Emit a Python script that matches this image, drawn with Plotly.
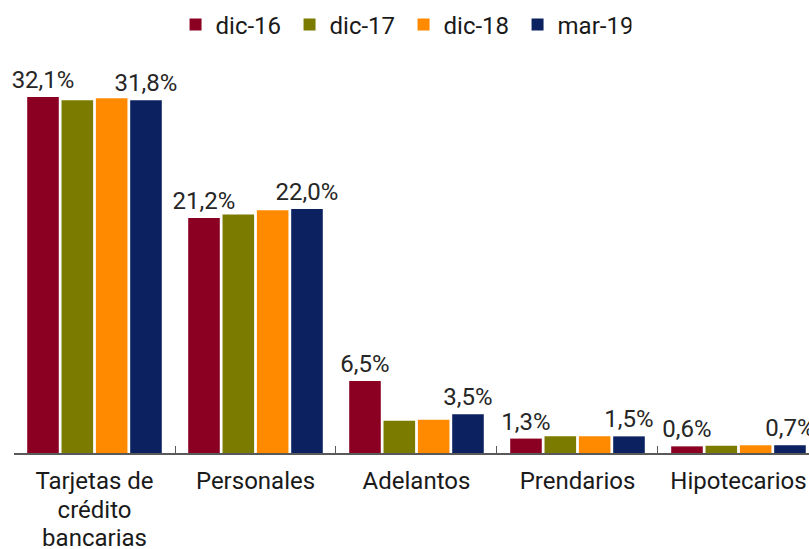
import plotly.graph_objects as go

categories = ["Tarjetas de<br>crédito<br>bancarias", "Personales", "Adelantos", "Prendarios", "Hipotecarios"]
series_names = ["dic-16", "dic-17", "dic-18", "mar-19"]
dic16 = [32.1, 21.2, 6.5, 1.3, 0.6]
dic17 = [31.8, 21.5, 2.9, 1.5, 0.65]
dic18 = [32.0, 21.9, 3.0, 1.5, 0.7]
mar19 = [31.8, 22.0, 3.5, 1.5, 0.7]
colors = ["#8B0022", "#7B7B00", "#FF8A00", "#0B2160"]
labeled = [True, False, False, True]

def fmt(v):
    return f"{v:.1f}".replace(".", ",") + "%"

def big(label):
    return "<br>".join(f'<span style="font-size:24px">{part}</span>' for part in label.split("<br>"))

FONT = "Roboto"
fig = go.Figure()
for name, vals, col, lab in zip(series_names, [dic16, dic17, dic18, mar19], colors, labeled):
    fig.add_trace(go.Bar(
        x=categories, y=vals, name=name,
        marker=dict(color=col, line=dict(width=0)),
        text=[fmt(v) for v in vals] if lab else None,
        textposition="outside" if lab else "none",
        textfont=dict(family=FONT, size=24, color="#262626"),
        constraintext="none", cliponaxis=False,
        hoverinfo="skip",
    ))

fig.update_layout(
    width=809, height=549,
    margin=dict(l=14, r=0, t=60, b=96, autoexpand=False),
    plot_bgcolor="white", paper_bgcolor="white",
    barmode="group", bargap=0.147, bargroupgap=0.08,
    font=dict(family=FONT, size=24, color="#1a1a1a"),
    showlegend=True,
    legend=dict(orientation="h", x=0.49, xanchor="center", y=1.089, yanchor="middle",
                font=dict(family=FONT, size=24, color="#1a1a1a"),
                entrywidth=69, itemwidth=30, traceorder="normal"),
    xaxis=dict(range=[-0.5, 4.438], showline=True, linecolor="#595959", linewidth=1.5,
               ticks="inside", ticklen=7, tickcolor="#595959", tickwidth=1.3,
               tickson="boundaries", showgrid=False, fixedrange=True,
               ticklabelstandoff=8, automargin=False,
               tickmode="array", tickvals=categories, ticktext=[big(c) for c in categories],
               tickfont=dict(family=FONT, size=22, color="#1a1a1a")),
    yaxis=dict(range=[0, 35.44], visible=False, showgrid=False, fixedrange=True,
               automargin=False),
)

fig.write_html("out.html", config={"displayModeBar": False},
               post_script="document.body.style.margin='0';document.body.style.padding='0';document.body.style.overflow='hidden';")
